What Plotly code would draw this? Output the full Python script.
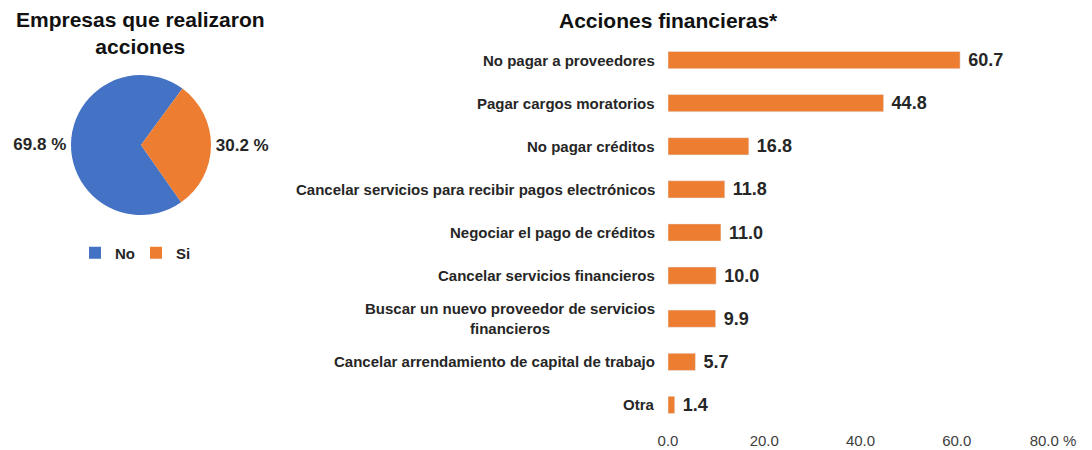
import plotly.graph_objects as go

# Data
pie_labels = ["No", "Si"]
pie_values = [69.8, 30.2]

categories = [
    "No pagar a proveedores",
    "Pagar cargos moratorios",
    "No pagar créditos",
    "Cancelar servicios para recibir pagos electrónicos",
    "Negociar el pago de créditos",
    "Cancelar servicios financieros",
    "Buscar un nuevo proveedor de servicios<br>financieros",
    "Cancelar arrendamiento de capital de trabajo",
    "Otra",
]
values = [60.7, 44.8, 16.8, 11.8, 11.0, 10.0, 9.9, 5.7, 1.4]
tick_vals = [0, 20, 40, 60, 80]
tick_text = ["0.0", "20.0", "40.0", "60.0", "80.0 %"]

BLUE = "#4472C4"
ORANGE = "#ED7D31"
TXT = "#262626"
FONT = "Liberation Sans, Arial, sans-serif"

# page body has an 8px margin: figure is 1084x442 so it fits in 1092x450
OFF = 8
W, H = 1092 - OFF, 450 - OFF


def px(x):
    return (x - OFF) / W


def py(y):
    return 1 - (y - OFF) / H


fig = go.Figure()

fig.add_trace(go.Pie(
    labels=pie_labels, values=pie_values, sort=False,
    direction="clockwise", rotation=145,
    marker=dict(colors=[BLUE, ORANGE], line=dict(width=0)),
    texttemplate="%{value:.1f} %", textposition="outside",
    textfont=dict(family=FONT, size=17, color=TXT, weight="bold"),
    domain=dict(x=[px(71), px(211)], y=[py(215), py(75)]),
    hoverinfo="label+value",
))

fig.add_trace(go.Bar(
    y=categories, x=values, orientation="h",
    marker=dict(color=ORANGE), width=0.4,
    texttemplate="\u00a0%{x:.1f}", textposition="outside",
    constraintext="none", textangle=0,
    textfont=dict(family=FONT, size=18, color=TXT, weight="bold"),
    cliponaxis=False, showlegend=False,
))

for c in categories:
    fig.add_annotation(
        x=0, y=c, xref="x", yref="y", text=c, showarrow=False,
        xanchor="right", xshift=-11, align="center",
        font=dict(family=FONT, size=15, color=TXT, weight="bold"),
    )

fig.add_annotation(
    x=px(140), y=py(33), xref="paper", yref="paper",
    text="Empresas que realizaron<br>acciones", showarrow=False,
    xanchor="center", yanchor="middle", align="center",
    font=dict(family=FONT, size=21, color="#111111", weight="bold"),
)
fig.add_annotation(
    x=px(668), y=py(20), xref="paper", yref="paper",
    text="Acciones financieras*", showarrow=False,
    xanchor="center", yanchor="middle",
    font=dict(family=FONT, size=21, color="#111111", weight="bold"),
)

fig.update_layout(
    width=W, height=H,
    margin=dict(l=0, r=0, t=0, b=0, pad=0, autoexpand=False),
    paper_bgcolor="white", plot_bgcolor="white",
    font=dict(family=FONT, color=TXT),
    xaxis=dict(
        domain=[px(668), px(1053)], range=[0, 80],
        tickvals=tick_vals, ticktext=tick_text,
        showgrid=False, zeroline=False, showline=False,
        ticklabelstandoff=3,
        tickfont=dict(family=FONT, size=15, color="#404040"),
    ),
    yaxis=dict(
        domain=[py(426.5), py(38.5)],
        autorange="reversed", showticklabels=False,
        showgrid=False, zeroline=False, showline=False,
    ),
    legend=dict(
        orientation="h", x=px(136), y=py(253),
        xanchor="center", yanchor="middle",
        font=dict(family=FONT, size=15, color=TXT, weight="bold"),
        itemwidth=30, entrywidth=16,
    ),
    bargap=0.6,
)

fig.write_html("out.html")
